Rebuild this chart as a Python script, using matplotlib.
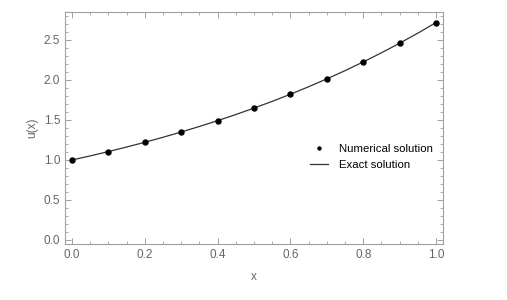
import numpy as np
import matplotlib.pyplot as plt
from matplotlib.ticker import MultipleLocator

# values
x_num = [0.0, 0.1, 0.2, 0.3, 0.4, 0.5, 0.6, 0.7, 0.8, 0.9, 1.0]
u_num = [1.0, 1.105, 1.221, 1.350, 1.492, 1.649, 1.822, 2.014, 2.226, 2.460, 2.718]
x_exact = [0.0, 0.05, 0.1, 0.15, 0.2, 0.25, 0.3, 0.35, 0.4, 0.45, 0.5,
           0.55, 0.6, 0.65, 0.7, 0.75, 0.8, 0.85, 0.9, 0.95, 1.0]
u_exact = [1.0, 1.051, 1.105, 1.162, 1.221, 1.284, 1.350, 1.419, 1.492, 1.568, 1.649,
           1.733, 1.822, 1.916, 2.014, 2.117, 2.226, 2.340, 2.460, 2.586, 2.718]

plt.rcParams['font.family'] = ['Liberation Sans', 'DejaVu Sans']

fig = plt.figure(figsize=(5.07, 3.0), dpi=100)
ax = fig.add_axes([65/507, 1 - 244/300, 378/507, 232/300])

ax.plot(x_exact, u_exact, color='#333333', lw=0.9, label='Exact solution', zorder=2)
ax.plot(x_num, u_num, 'o', color='black', ms=3.6, label='Numerical solution', zorder=3)

ax.set_xlim(-0.019, 1.019)
ax.set_ylim(-0.05, 2.85)
ax.xaxis.set_major_locator(MultipleLocator(0.2))
ax.xaxis.set_minor_locator(MultipleLocator(0.05))
ax.yaxis.set_major_locator(MultipleLocator(0.5))
ax.yaxis.set_minor_locator(MultipleLocator(0.1))
ax.xaxis.set_major_formatter(plt.FormatStrFormatter('%.1f'))
ax.yaxis.set_major_formatter(plt.FormatStrFormatter('%.1f'))

for s in ax.spines.values():
    s.set_color('#a0a0a0')
    s.set_linewidth(0.8)
ax.tick_params(which='both', direction='in', top=True, right=True,
               color='#a0a0a0', labelcolor='#666666', labelsize=8.5)
ax.tick_params(which='major', length=4, width=0.7)
ax.tick_params(which='minor', length=2, width=0.6)

ax.set_xlabel('x', color='#666666', fontsize=8.5, labelpad=7)
ax.set_ylabel('u(x)', color='#666666', fontsize=8.5, labelpad=4)

h, l = ax.get_legend_handles_labels()
leg = ax.legend(h[::-1], l[::-1], loc='center left', bbox_to_anchor=(0.62, 0.375),
                frameon=False, fontsize=8.2, handlelength=1.6, markerscale=0.6,
                handletextpad=1.0, labelspacing=0.45)

plt.savefig('out.png', dpi=100)
